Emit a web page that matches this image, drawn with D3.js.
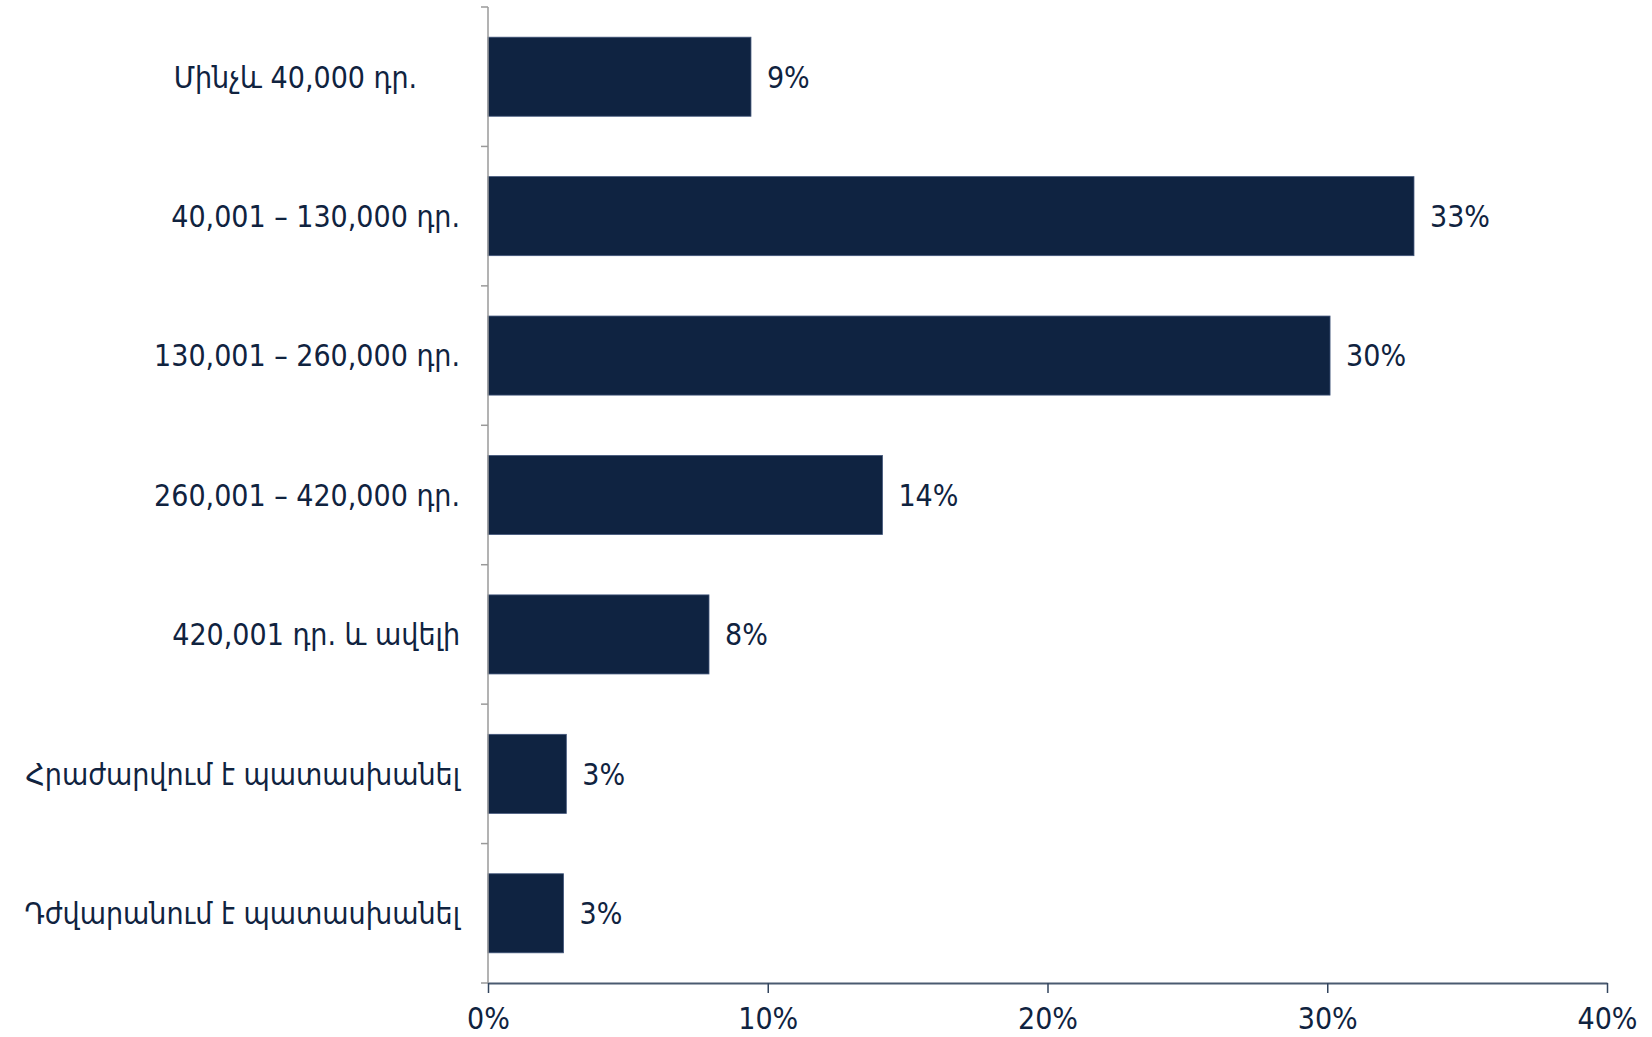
<!DOCTYPE html>
<html>
<head>
<meta charset="utf-8">
<script src="https://cdn.jsdelivr.net/npm/d3@7"></script>
<style>
  body { margin: 0; background: #fff; }
  text { font-family: "DejaVu Sans Condensed", "DejaVu Sans", sans-serif; fill: #10233f; }
</style>
</head>
<body>
<svg id="chart"></svg>
<script>
// Categories and shares
const categories = [
  "Մինչև 40,000 դր.\u00A0\u00A0\u00A0\u00A0\u00A0",
  "40,001 – 130,000 դր.",
  "130,001 – 260,000 դր.",
  "260,001 – 420,000 դր.",
  "420,001 դր. և ավելի",
  "Հրաժարվում է պատասխանել",
  "Դժվարանում է պատասխանել"
];
const values = [0.094, 0.331, 0.301, 0.141, 0.079, 0.028, 0.027];
const valueLabels = ["9%", "33%", "30%", "14%", "8%", "3%", "3%"];
const xTicks = [0, 0.1, 0.2, 0.3, 0.4];

const data = categories.map((c, i) => ({ cat: c, value: values[i], label: valueLabels[i] }));

// Dimensions
const width = 1652, height = 1037;
const margin = { top: 7, right: 45, bottom: 54, left: 488 };

const svg = d3.select("#chart")
  .attr("width", width)
  .attr("height", height);

const xScale = d3.scaleLinear()
  .domain([0, 0.4])
  .range([margin.left, width - margin.right]);

const yScale = d3.scaleBand()
  .domain(categories)
  .range([margin.top, height - margin.bottom])
  .paddingInner(0.433)
  .paddingOuter(0.2165);

const fontSize = 30;

// Bars
svg.selectAll("rect.bar")
  .data(data)
  .enter()
  .append("rect")
  .attr("class", "bar")
  .attr("x", xScale(0))
  .attr("y", d => yScale(d.cat))
  .attr("width", d => xScale(d.value) - xScale(0))
  .attr("height", yScale.bandwidth())
  .attr("fill", "#0f2341")
  .attr("stroke", "#41557a")
  .attr("stroke-width", 0.8);

// Value labels
svg.selectAll("text.val")
  .data(data)
  .enter()
  .append("text")
  .attr("class", "val")
  .attr("x", d => xScale(d.value) + 16)
  .attr("y", d => yScale(d.cat) + yScale.bandwidth() / 2)
  .attr("dy", "0.36em")
  .style("font-size", fontSize + "px")
  .text(d => d.label);

// Category labels
svg.selectAll("text.cat")
  .data(data)
  .enter()
  .append("text")
  .attr("class", "cat")
  .attr("x", margin.left - 28)
  .attr("y", d => yScale(d.cat) + yScale.bandwidth() / 2)
  .attr("dy", "0.36em")
  .attr("text-anchor", "end")
  .style("font-size", fontSize + "px")
  .style("white-space", "pre")
  .text(d => d.cat);

// Y axis line with ticks between the categories
const y0 = yScale.range()[0], y1 = yScale.range()[1];
svg.append("line")
  .attr("x1", xScale(0)).attr("x2", xScale(0))
  .attr("y1", y0).attr("y2", y1)
  .attr("stroke", "#9a9a9a")
  .attr("stroke-width", 1.5);

svg.selectAll("line.ytick")
  .data(d3.range(categories.length + 1))
  .enter()
  .append("line")
  .attr("class", "ytick")
  .attr("x1", xScale(0) - 7).attr("x2", xScale(0))
  .attr("y1", i => y0 + i * yScale.step())
  .attr("y2", i => y0 + i * yScale.step())
  .attr("stroke", "#9a9a9a")
  .attr("stroke-width", 1.5);

// X axis
const xAxis = d3.axisBottom(xScale)
  .tickValues(xTicks)
  .tickFormat(d3.format(".0%"))
  .tickSizeInner(10)
  .tickSizeOuter(0)
  .tickPadding(15);

const gx = svg.append("g")
  .attr("transform", `translate(0, ${y1})`)
  .call(xAxis);

gx.select(".domain")
  .attr("stroke", "#4a5a70")
  .attr("stroke-width", 2);

gx.selectAll(".tick line")
  .attr("stroke", "#33455e")
  .attr("stroke-width", 1.5);

gx.selectAll(".tick text")
  .style("font-size", fontSize + "px")
  .style("font-family", "\"DejaVu Sans Condensed\", \"DejaVu Sans\", sans-serif")
  .attr("fill", "#10233f");
</script>
</body>
</html>
